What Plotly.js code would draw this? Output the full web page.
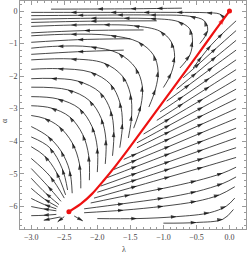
<!DOCTYPE html>
<html><head><meta charset="utf-8">
<script src="https://cdn.plot.ly/plotly-3.0.1.min.js"></script>
<style>html,body{margin:0;padding:0;background:#fff}#chart{width:249px;height:254px}</style>
</head><body><div id="chart"></div>
<script>
// tick values / labels
const xTicks = [-3, -2.5, -2, -1.5, -1, -0.5, 0];
const xTickLabels = ['\u22123.0', '\u22122.5', '\u22122.0', '\u22121.5', '\u22121.0', '\u22120.5', '0.0'];
const yTicks = [0, -1, -2, -3, -4, -5, -6];
const yTickLabels = ['0', '\u22121', '\u22122', '\u22123', '\u22124', '\u22125', '\u22126'];

// streamlines, each as [lambda, a] points in flow order
const topLines = [
  [[-0.72, 0.09], [-1.1, 0.08], [-1.5, 0.07], [-2.0, 0.065], [-2.7, 0.06]],
  [[-0.07, -0.22], [-0.15, -0.09], [-0.35, -0.05], [-0.8, -0.04], [-1.3, -0.04], [-1.8, -0.04], [-2.4, -0.04], [-3.0, -0.04]]
];
const leftArcs = [
  [[-0.45, -1.0], [-0.33, -0.6], [-0.38, -0.3], [-0.6, -0.16], [-1.2, -0.12], [-1.7, -0.12], [-2.3, -0.13], [-3.0, -0.14]],
  [[-0.75, -1.75], [-0.6, -1.35], [-0.56, -0.92], [-0.6, -0.55], [-0.78, -0.32], [-1.2, -0.23], [-1.6, -0.22], [-2.1, -0.22], [-3.0, -0.25]],
  [[-1.0, -2.35], [-0.88, -1.9], [-0.83, -1.4], [-0.88, -0.95], [-1.05, -0.62], [-1.45, -0.45], [-1.9, -0.42], [-2.4, -0.43], [-3.0, -0.47]],
  [[-1.22, -2.95], [-1.12, -2.4], [-1.08, -1.85], [-1.15, -1.35], [-1.38, -0.95], [-1.8, -0.75], [-2.4, -0.71], [-3.0, -0.76]],
  [[-1.45, -3.6], [-1.34, -2.9], [-1.32, -2.3], [-1.42, -1.75], [-1.68, -1.3], [-2.1, -1.1], [-2.6, -1.08], [-3.0, -1.14]],
  [[-1.53, -3.9], [-1.48, -3.2], [-1.5, -2.55], [-1.62, -2.0], [-1.9, -1.6], [-2.4, -1.47], [-3.0, -1.5]],
  [[-1.66, -4.2], [-1.62, -3.45], [-1.66, -2.8], [-1.8, -2.25], [-2.1, -1.88], [-2.6, -1.77], [-3.0, -1.79]],
  [[-1.77, -4.45], [-1.75, -3.7], [-1.8, -3.05], [-1.96, -2.5], [-2.3, -2.15], [-2.7, -2.07], [-3.0, -2.08]],
  [[-1.88, -4.7], [-1.87, -3.95], [-1.94, -3.3], [-2.12, -2.75], [-2.45, -2.42], [-3.0, -2.34]],
  [[-2.0, -4.95], [-2.0, -4.2], [-2.08, -3.55], [-2.27, -3.0], [-2.6, -2.7], [-3.0, -2.63]],
  [[-2.12, -5.2], [-2.13, -4.45], [-2.22, -3.8], [-2.42, -3.25], [-2.7, -2.98], [-3.0, -2.91]],
  [[-2.25, -5.45], [-2.27, -4.7], [-2.38, -4.05], [-2.58, -3.55], [-2.8, -3.3], [-3.0, -3.21]],
  [[-2.38, -5.6], [-2.42, -4.9], [-2.55, -4.3], [-2.75, -3.85], [-3.0, -3.55]],
  [[-1.6, -1.2], [-2.3, -1.25], [-3.0, -1.33]],
  [[-1.5, -0.85], [-2.3, -0.88], [-3.0, -0.96]],
  [[-1.3, -0.58], [-2.2, -0.6], [-3.0, -0.67]],
  [[-1.1, -0.3], [-2.1, -0.31], [-3.0, -0.35]]
];
const leftRadial = [
  [[-2.45, -5.5], [-2.53, -4.85], [-2.72, -4.2], [-3.0, -3.87]],
  [[-2.48, -5.65], [-2.62, -4.95], [-2.8, -4.45], [-3.0, -4.17]],
  [[-2.5, -5.75], [-2.71, -5.09], [-3.0, -4.53]],
  [[-2.55, -5.85], [-2.75, -5.38], [-3.0, -4.84]],
  [[-2.58, -5.95], [-2.78, -5.6], [-3.0, -5.14]],
  [[-2.6, -6.02], [-2.8, -5.78], [-3.0, -5.45]],
  [[-2.62, -6.08], [-2.8, -5.95], [-3.0, -5.76]],
  [[-2.62, -6.14], [-2.82, -6.08], [-3.0, -6.01]],
  [[-2.62, -6.25], [-2.82, -6.28], [-3.0, -6.29]],
  [[-2.56, -6.33], [-2.81, -6.43]],
  [[-2.35, -6.3], [-2.22, -6.45]],
  [[-2.5, -6.32], [-2.6, -6.48]]
];
const rightLines = [
  [[-0.55, -1.75], [-0.42, -1.4], [-0.28, -1.05], [-0.1, -0.68], [0.1, -0.3]],
  [[-0.7, -2.05], [-0.45, -1.6], [-0.2, -1.14], [0.1, -0.6]],
  [[-0.8, -2.4], [-0.5, -1.9], [-0.2, -1.4], [0.1, -0.9]],
  [[-0.95, -2.77], [-0.6, -2.25], [-0.25, -1.72], [0.1, -1.2]],
  [[-1.05, -3.1], [-0.7, -2.62], [-0.3, -2.06], [0.1, -1.5]],
  [[-1.1, -3.36], [-0.7, -2.84], [-0.3, -2.32], [0.1, -1.8]],
  [[-1.3, -3.78], [-0.9, -3.3], [-0.4, -2.7], [0.1, -2.1]],
  [[-1.4, -4.05], [-0.9, -3.5], [-0.4, -2.95], [0.1, -2.4]],
  [[-1.4, -4.2], [-0.9, -3.7], [-0.4, -3.2], [0.1, -2.7]],
  [[-1.6, -4.56], [-1.4, -4.38], [-0.9, -3.92], [-0.4, -3.46], [0.1, -3.0]],
  [[-1.75, -4.87], [-1.4, -4.57], [-0.9, -4.15], [-0.4, -3.72], [0.1, -3.3]],
  [[-1.85, -5.12], [-1.4, -4.77], [-0.9, -4.38], [-0.4, -3.99], [0.1, -3.6]],
  [[-1.95, -5.38], [-1.4, -4.98], [-0.9, -4.62], [-0.4, -4.26], [0.1, -3.9]],
  [[-2.0, -5.57], [-1.4, -5.18], [-0.9, -4.85], [-0.4, -4.53], [0.1, -4.2]],
  [[-2.05, -5.75], [-1.4, -5.38], [-0.9, -5.09], [-0.4, -4.8], [0.1, -4.5]],
  [[-2.1, -5.9], [-1.5, -5.65], [-1.0, -5.45], [-0.5, -5.22], [-0.1, -4.98], [0.1, -4.8]],
  [[-2.2, -6.08], [-1.6, -5.92], [-1.0, -5.75], [-0.5, -5.55], [-0.1, -5.3], [0.1, -5.1]],
  [[-2.2, -6.2], [-1.6, -6.12], [-1.0, -6.0], [-0.5, -5.85], [-0.15, -5.65], [0.08, -5.4]],
  [[-2.0, -6.38], [-1.4, -6.38], [-0.8, -6.32], [-0.3, -6.2], [-0.05, -6.0], [0.08, -5.75]],
  [[-1.0, -6.52], [-0.5, -6.5], [-0.1, -6.4], [0.06, -6.1]]
];
// red trajectory
const redLambda = [-2.43, -2.25, -2.08, -1.9, -1.72, -1.55, -1.2, -0.85, -0.5, -0.2, 0];
const redA = [-6.17, -5.93, -5.62, -5.2, -4.75, -4.3, -3.33, -2.36, -1.39, -0.55, 0];

const traces = [];
function addLine(pts) {
  const n = pts.length;
  const sizes = pts.map((p, i) => (i > 0 && i < n - 1) ? 6 : 0);
  if (n === 2) sizes[1] = 6;
  traces.push({
    x: pts.map(p => p[0]), y: pts.map(p => p[1]),
    type: 'scatter', mode: 'lines+markers',
    line: {color: '#1a1a1a', width: 0.8, shape: 'spline', smoothing: 1},
    marker: {symbol: 'arrow', size: sizes, angleref: 'previous', color: '#000', line: {width: 0}},
    hoverinfo: 'skip', showlegend: false
  });
}
[topLines, leftArcs, leftRadial, rightLines].forEach(f => f.forEach(addLine));

traces.push({
  x: redLambda, y: redA, type: 'scatter', mode: 'lines',
  line: {color: '#ee1111', width: 2.2, shape: 'spline', smoothing: 0.8},
  hoverinfo: 'skip', showlegend: false
});
traces.push({
  x: [redLambda[redLambda.length - 2], -0.07], y: [redA[redA.length - 2], -0.19],
  type: 'scatter', mode: 'markers',
  marker: {symbol: 'arrow', size: [0, 8], angleref: 'previous', color: '#ee1111', line: {width: 0}},
  hoverinfo: 'skip', showlegend: false
});
traces.push({
  x: [redLambda[0], redLambda[redLambda.length - 1]], y: [redA[0], redA[redA.length - 1]],
  type: 'scatter', mode: 'markers',
  marker: {symbol: 'circle', size: 5, color: '#ee1111', line: {width: 0}},
  hoverinfo: 'skip', showlegend: false
});

const axisCommon = {
  showgrid: false, zeroline: false, showline: true, mirror: 'allticks',
  linecolor: '#9a9a9a', linewidth: 1, ticks: 'inside', ticklen: 4, tickcolor: '#9a9a9a',
  tickfont: {family: 'Liberation Serif', size: 8, color: '#444'}
};
const layout = {
  width: 249, height: 254,
  margin: {l: 20, r: 3, t: 1, b: 25},
  paper_bgcolor: '#fff', plot_bgcolor: '#fff',
  xaxis: Object.assign({}, axisCommon, {
    range: [-3.17, 0.25], tickmode: 'array', tickvals: xTicks, ticktext: xTickLabels,
    minor: {dtick: 0.1, tick0: 0, ticks: 'inside', ticklen: 2, tickcolor: '#9a9a9a', showgrid: false}
  }),
  yaxis: Object.assign({}, axisCommon, {
    range: [-6.7, 0.31], tickmode: 'array', tickvals: yTicks, ticktext: yTickLabels,
    minor: {dtick: 0.2, tick0: 0, ticks: 'inside', ticklen: 2, tickcolor: '#9a9a9a', showgrid: false}
  }),
  annotations: [
    {text: '\u03bb', xref: 'paper', yref: 'paper', x: 0.46, y: -0.088, showarrow: false,
     font: {family: 'Liberation Serif', size: 8, color: '#444'}, xanchor: 'center', yanchor: 'middle'},
    {text: '\u03b1', xref: 'paper', yref: 'paper', x: -0.071, y: 0.478, showarrow: false, textangle: -90,
     font: {family: 'Liberation Serif', size: 8, color: '#444'}, xanchor: 'center', yanchor: 'middle'}
  ]
};
Plotly.newPlot('chart', traces, layout, {staticPlot: true, displayModeBar: false});
</script></body></html>
